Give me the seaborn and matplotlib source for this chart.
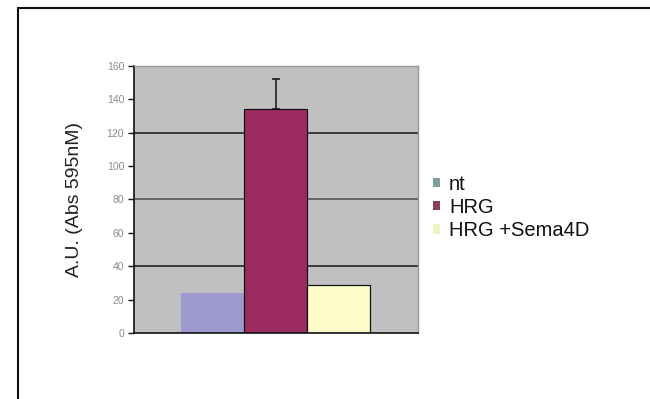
import matplotlib
matplotlib.use("Agg")
import matplotlib.pyplot as plt
import seaborn as sns
import pandas as pd
from matplotlib.patches import Rectangle, Patch

# Absorbance readings per treatment
conditions = ["nt", "HRG", "HRG +Sema4D"]
values = [24, 134, 29]
errors_up = [0, 18, 0]
bar_colors = ["#9C99CF", "#9B2B60", "#FCFDCB"]
legend_colors = ["#7E9F9C", "#8E3E5E", "#EEF2C6"]
y_ticks = [0, 20, 40, 60, 80, 100, 120, 140, 160]
grid_levels = [40, 80, 120]

sns.set_theme(style="white")
plt.rcParams["font.family"] = ["Liberation Sans", "DejaVu Sans"]

df = pd.DataFrame({"group": ["g"] * len(conditions), "condition": conditions, "value": values})

fig = plt.figure(figsize=(6.5, 3.99), dpi=100)
ax = fig.add_axes([0.206, 0.165, 0.437, 0.67])
ax.set_facecolor("#C0C0C0")

# horizontal gridlines drawn beneath the bars
for g in grid_levels:
    ax.axhline(g, color="#222222" if g != 80 else "#555555", lw=1.2, zorder=0.5)

sns.barplot(data=df, x="group", y="value", hue="condition", hue_order=conditions,
            palette=bar_colors, width=0.665, dodge=True, legend=False,
            errorbar=None, saturation=1, ax=ax, zorder=2)

for i, patch in enumerate(ax.patches):
    patch.set_linewidth(0.9 if i > 0 else 0)
    patch.set_edgecolor("#111111")

# upper error bar on each bar
for patch, err, val in zip(ax.patches, errors_up, values):
    if err > 0:
        cx = patch.get_x() + patch.get_width() / 2
        ax.errorbar(cx, val, yerr=[[0], [err]], fmt="none", ecolor="#111111",
                    elinewidth=1.1, capsize=3, capthick=1.1, zorder=3)

ax.set_ylim(0, 160)
ax.set_xlim(-0.5, 0.5)
ax.set_yticks(y_ticks)
ax.set_yticklabels([str(t) for t in y_ticks], fontsize=7.5, color="#8a8a8a")
ax.tick_params(axis="y", direction="out", length=4, width=1, color="#111111", pad=3, left=True)
ax.set_xticks([])
ax.set_xlabel("")
ax.set_ylabel("A.U. (Abs 595nM)", fontsize=14, color="#222222", labelpad=17)

for side in ["top", "right"]:
    ax.spines[side].set_color("#999999")
    ax.spines[side].set_linewidth(1)
for side in ["left", "bottom"]:
    ax.spines[side].set_color("#111111")
    ax.spines[side].set_linewidth(1.2)

handles = [Patch(facecolor=c, edgecolor="none") for c in legend_colors]
fig.legend(handles, conditions, loc="upper left", bbox_to_anchor=(0.638, 0.607),
           frameon=False, fontsize=14.5, handlelength=0.35, handleheight=0.35,
           handletextpad=0.45, labelspacing=0.2, labelcolor="#111111")

# outer chart frame
fig.patches.append(Rectangle((0.028, -0.2), 1.2, 1.18, transform=fig.transFigure,
                             fill=False, edgecolor="#111111", lw=1.5))

fig.savefig("out.png", dpi=100)
